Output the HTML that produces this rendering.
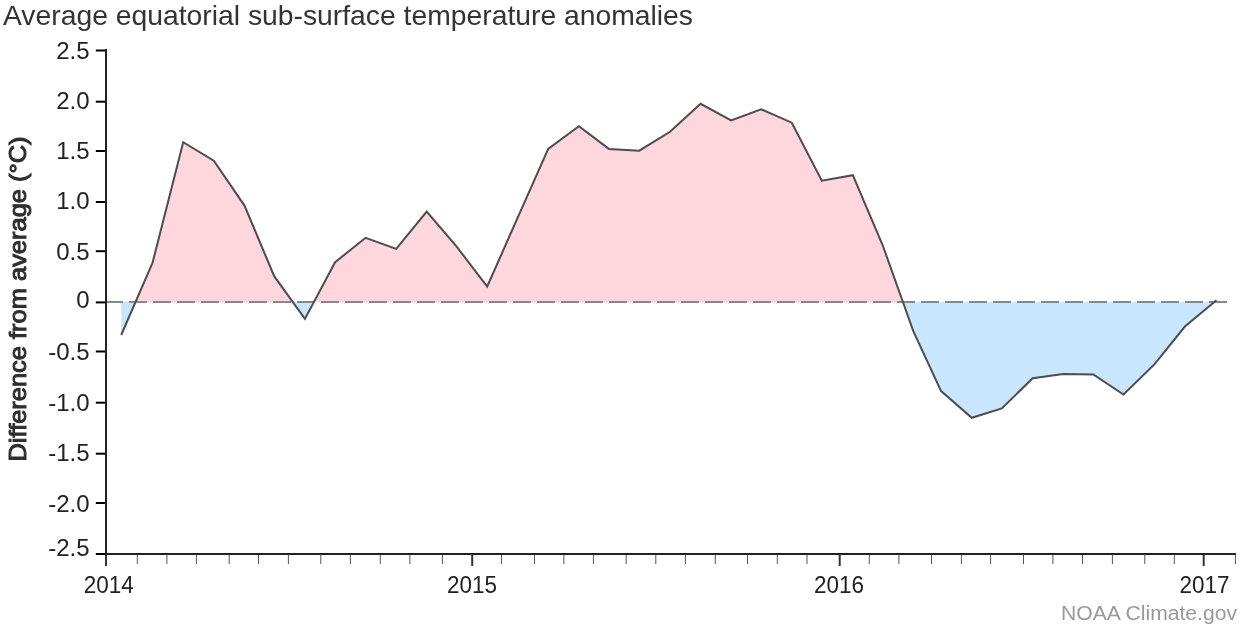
<!DOCTYPE html>
<html><head><meta charset="utf-8">
<style>
html,body{margin:0;padding:0;background:#fff;}
body{width:1240px;height:630px;overflow:hidden;}
svg{display:block;will-change:transform;}
text{font-family:"Liberation Sans",sans-serif;}
</style></head>
<body>
<svg width="1240" height="630" viewBox="0 0 1240 630">
<defs>
<clipPath id="above"><rect x="0" y="0" width="1240" height="302"/></clipPath>
<clipPath id="below"><rect x="0" y="302" width="1240" height="330"/></clipPath>
</defs>
<text x="3" y="25.1" font-size="28" fill="#333" textLength="690" lengthAdjust="spacingAndGlyphs">Average equatorial sub-surface temperature anomalies</text>
<path d="M121.2,302 L121.2,335 L152.6,262.6 L183.2,142.2 L213.8,160.7 L244.5,205.6 L274.2,276.2 L304.9,318.9 L335.1,262.2 L365.6,237.8 L396.2,248.9 L426.7,211.6 L456.7,246.7 L487.2,286.5 L517.7,217.7 L548.2,148.9 L578.9,126.2 L608.9,148.9 L639.3,150.7 L670,131.8 L700.6,103.8 L731.1,120.4 L761.1,109.3 L791.8,122.7 L821.8,180.7 L852.8,175.2 L882.6,245 L913.3,331.1 L941.1,391.1 L971.8,417.8 L1001.8,408.4 L1032.7,378.2 L1063.3,374.1 L1093.3,374.4 L1123.5,394.5 L1154.6,364.2 L1184.9,326.5 L1216.5,300.2 L1216.5,302 Z" fill="#fdd6de" clip-path="url(#above)"/>
<path d="M121.2,302 L121.2,335 L152.6,262.6 L183.2,142.2 L213.8,160.7 L244.5,205.6 L274.2,276.2 L304.9,318.9 L335.1,262.2 L365.6,237.8 L396.2,248.9 L426.7,211.6 L456.7,246.7 L487.2,286.5 L517.7,217.7 L548.2,148.9 L578.9,126.2 L608.9,148.9 L639.3,150.7 L670,131.8 L700.6,103.8 L731.1,120.4 L761.1,109.3 L791.8,122.7 L821.8,180.7 L852.8,175.2 L882.6,245 L913.3,331.1 L941.1,391.1 L971.8,417.8 L1001.8,408.4 L1032.7,378.2 L1063.3,374.1 L1093.3,374.4 L1123.5,394.5 L1154.6,364.2 L1184.9,326.5 L1216.5,300.2 L1216.5,302 Z" fill="#c8e7fe" clip-path="url(#below)"/>
<line x1="105" x2="1227" y1="302" y2="302" stroke="#888" stroke-width="2" stroke-dasharray="18,6"/>
<path d="M121.2,335 L152.6,262.6 L183.2,142.2 L213.8,160.7 L244.5,205.6 L274.2,276.2 L304.9,318.9 L335.1,262.2 L365.6,237.8 L396.2,248.9 L426.7,211.6 L456.7,246.7 L487.2,286.5 L517.7,217.7 L548.2,148.9 L578.9,126.2 L608.9,148.9 L639.3,150.7 L670,131.8 L700.6,103.8 L731.1,120.4 L761.1,109.3 L791.8,122.7 L821.8,180.7 L852.8,175.2 L882.6,245 L913.3,331.1 L941.1,391.1 L971.8,417.8 L1001.8,408.4 L1032.7,378.2 L1063.3,374.1 L1093.3,374.4 L1123.5,394.5 L1154.6,364.2 L1184.9,326.5 L1216.5,300.2" fill="none" stroke="#4d4d4d" stroke-width="2" stroke-linejoin="miter"/>
<g stroke="#000" stroke-width="2"><line x1="95.8" x2="106" y1="50.5" y2="50.5"/><line x1="95.8" x2="106" y1="101.7" y2="101.7"/><line x1="95.8" x2="106" y1="151" y2="151"/><line x1="95.8" x2="106" y1="202" y2="202"/><line x1="95.8" x2="106" y1="251.2" y2="251.2"/><line x1="95.8" x2="106" y1="302.4" y2="302.4"/><line x1="95.8" x2="106" y1="351.5" y2="351.5"/><line x1="95.8" x2="106" y1="402.7" y2="402.7"/><line x1="95.8" x2="106" y1="453.7" y2="453.7"/><line x1="95.8" x2="106" y1="503" y2="503"/><line x1="95.8" x2="106" y1="554" y2="554"/></g>
<line x1="106" x2="106" y1="49" y2="555" stroke="#222" stroke-width="2"/>
<line x1="105" x2="1236" y1="554" y2="554" stroke="#222" stroke-width="2"/>
<g stroke="#555" stroke-width="1"><line x1="137.3" x2="137.3" y1="555" y2="564"/><line x1="166.9" x2="166.9" y1="555" y2="564"/><line x1="196.4" x2="196.4" y1="555" y2="564"/><line x1="229.2" x2="229.2" y1="555" y2="564"/><line x1="258.5" x2="258.5" y1="555" y2="564"/><line x1="288.4" x2="288.4" y1="555" y2="564"/><line x1="320.8" x2="320.8" y1="555" y2="564"/><line x1="350.4" x2="350.4" y1="555" y2="564"/><line x1="380.3" x2="380.3" y1="555" y2="564"/><line x1="409.9" x2="409.9" y1="555" y2="564"/><line x1="442.4" x2="442.4" y1="555" y2="564"/><line x1="501.6" x2="501.6" y1="555" y2="564"/><line x1="534.5" x2="534.5" y1="555" y2="564"/><line x1="563.9" x2="563.9" y1="555" y2="564"/><line x1="593.4" x2="593.4" y1="555" y2="564"/><line x1="626.2" x2="626.2" y1="555" y2="564"/><line x1="655.8" x2="655.8" y1="555" y2="564"/><line x1="685.4" x2="685.4" y1="555" y2="564"/><line x1="715.3" x2="715.3" y1="555" y2="564"/><line x1="747.5" x2="747.5" y1="555" y2="564"/><line x1="777.3" x2="777.3" y1="555" y2="564"/><line x1="807" x2="807" y1="555" y2="564"/><line x1="869.3" x2="869.3" y1="555" y2="564"/><line x1="898.9" x2="898.9" y1="555" y2="564"/><line x1="931.5" x2="931.5" y1="555" y2="564"/><line x1="961.4" x2="961.4" y1="555" y2="564"/><line x1="990.6" x2="990.6" y1="555" y2="564"/><line x1="1023.5" x2="1023.5" y1="555" y2="564"/><line x1="1052.9" x2="1052.9" y1="555" y2="564"/><line x1="1082.5" x2="1082.5" y1="555" y2="564"/><line x1="1112.4" x2="1112.4" y1="555" y2="564"/><line x1="1144.8" x2="1144.8" y1="555" y2="564"/><line x1="1174.3" x2="1174.3" y1="555" y2="564"/><line x1="1235.4" x2="1235.4" y1="554" y2="564"/></g>
<g stroke="#333" stroke-width="2"><line x1="106" x2="106" y1="555" y2="566"/><line x1="472.2" x2="472.2" y1="555" y2="566"/><line x1="839.7" x2="839.7" y1="555" y2="566"/><line x1="1203.7" x2="1203.7" y1="555" y2="566"/></g>
<g font-size="24" fill="#222" text-anchor="end"><text x="89.5" y="58.5">2.5</text><text x="89.5" y="108.5">2.0</text><text x="89.5" y="159.1">1.5</text><text x="89.5" y="209.3">1.0</text><text x="89.5" y="259.6">0.5</text><text x="89.5" y="308.1">0</text><text x="89.5" y="360.3">-0.5</text><text x="89.5" y="410.9">-1.0</text><text x="89.5" y="461.1">-1.5</text><text x="89.5" y="511.6">-2.0</text><text x="89.5" y="556">-2.5</text></g>
<g font-size="24" fill="#222" text-anchor="middle">
<text x="108.7" y="592.7" textLength="50" lengthAdjust="spacingAndGlyphs">2014</text>
<text x="472.1" y="592.7" textLength="50" lengthAdjust="spacingAndGlyphs">2015</text>
<text x="838.9" y="592.7" textLength="50" lengthAdjust="spacingAndGlyphs">2016</text>
<text x="1204.4" y="592.7" textLength="50" lengthAdjust="spacingAndGlyphs">2017</text>
</g>
<text transform="translate(26.3,461.5) rotate(-90)" font-size="24" fill="#2e2e2e" stroke="#2e2e2e" stroke-width="1" textLength="325" lengthAdjust="spacingAndGlyphs">Difference from average (°C)</text>
<text x="1061" y="620.3" font-size="20" fill="#999" textLength="176" lengthAdjust="spacingAndGlyphs">NOAA Climate.gov</text>
</svg>
</body></html>
